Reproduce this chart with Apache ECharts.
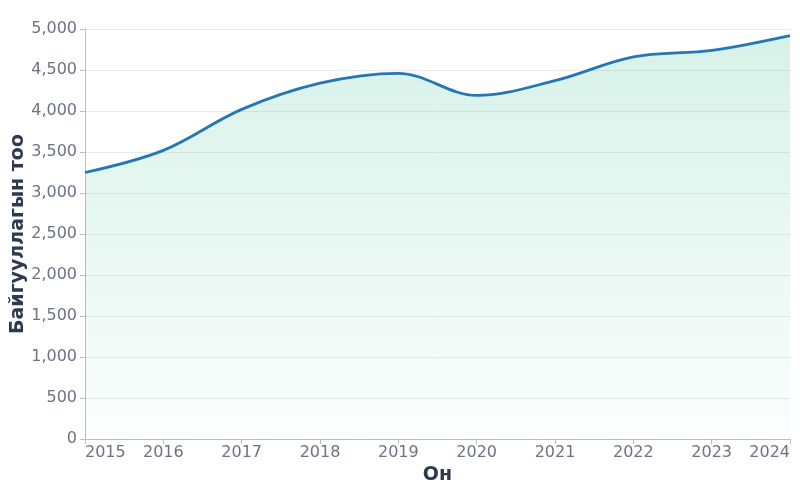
<!DOCTYPE html>
<html>
<head>
<meta charset="utf-8">
<script src="https://cdn.jsdelivr.net/npm/echarts@6/dist/echarts.min.js"></script>
<style>
    html, body { margin: 0; padding: 0; background: #fff; }
    #main { width: 800px; height: 500px; }
</style>
</head>
<body>
<div id="main"></div>
<script>
const years = ['2015', '2016', '2017', '2018', '2019', '2020', '2021', '2022', '2023', '2024'];
const orgCount = [3250, 3520, 4020, 4340, 4460, 4190, 4370, 4660, 4740, 4920];

const myChart = echarts.init(document.getElementById('main'));
const labelColor = '#6b7385';
const titleColor = '#2d3a4f';

let option = {
    animation: false,
    grid: {left: 85, right: 10, top: 29, bottom: 61, containLabel: false, outerBoundsMode: 'none'},
    xAxis: {
        type: 'category',
        data: years,
        boundaryGap: false,
        name: 'Он',
        nameLocation: 'middle',
        nameGap: 26,
        nameTextStyle: {color: titleColor, fontSize: 19, fontWeight: 'bold', fontFamily: 'DejaVu Sans'},
        axisLine: {lineStyle: {color: '#b8bcc4'}},
        axisTick: {alignWithLabel: true, lineStyle: {color: '#b8bcc4'}},
        axisLabel: {
            color: labelColor, fontSize: 16, fontFamily: 'DejaVu Sans', margin: 6,
            alignMinLabel: 'left', alignMaxLabel: 'right'
        },
        splitLine: {show: false}
    },
    yAxis: {
        type: 'value',
        min: 0,
        max: 5000,
        interval: 500,
        name: 'Байгууллагын тоо',
        nameLocation: 'middle',
        nameGap: 57,
        nameMoveOverlap: false,
        nameTextStyle: {color: titleColor, fontSize: 19, fontWeight: 'bold', fontFamily: 'DejaVu Sans'},
        axisLine: {show: true, lineStyle: {color: '#b8bcc4'}},
        axisTick: {show: true, lineStyle: {color: '#b8bcc4'}},
        axisLabel: {
            color: labelColor, fontSize: 16, fontFamily: 'DejaVu Sans', margin: 8,
            formatter: (v) => v.toLocaleString('en-US')
        },
        splitLine: {lineStyle: {color: '#e8eaed'}}
    },
    series: [{
        type: 'line',
        data: orgCount,
        smooth: 0.35,
        symbol: 'none',
        lineStyle: {color: '#2676b2', width: 2.8},
        areaStyle: {
            color: new echarts.graphic.LinearGradient(0, 0, 0, 1, [
                {offset: 0, color: 'rgba(76, 196, 154, 0.32)'},
                {offset: 1, color: 'rgba(76, 196, 154, 0.03)'}
            ])
        }
    }]
};
myChart.setOption(option);
</script>
</body>
</html>
